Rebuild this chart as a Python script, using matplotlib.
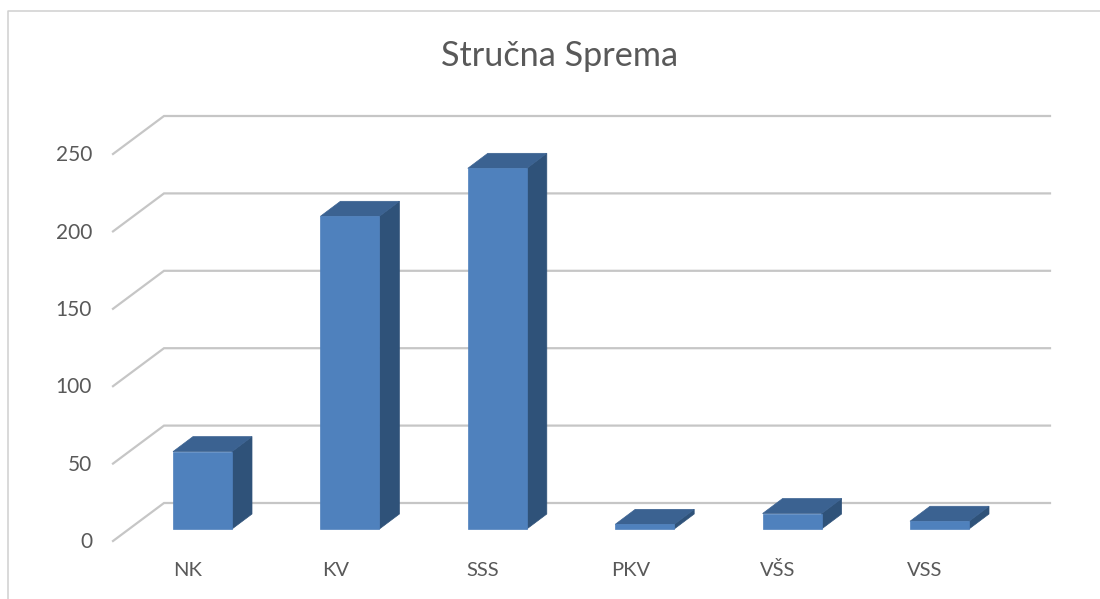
import matplotlib
matplotlib.use("Agg")
import matplotlib.pyplot as plt
from matplotlib.patches import Polygon

categories = ["NK", "KV", "SSS", "PKV", "VŠS", "VSS"]
values = [50, 202, 233, 3, 10, 5]
y_ticks = [0, 50, 100, 150, 200, 250]
title = "Stručna Sprema"

W, H = 1100, 599
PX_PER_CAT = 147.4
PX_PER_VAL = 1.548
X0_PX = 202.5          # centre of the first bar's front face
Y0_PX = 529.0          # pixel row of value 0 on the bar's front plane
BAR_W = 59 / PX_PER_CAT
DX = 20 / PX_PER_CAT   # bar depth, category units
DY = 15 / PX_PER_VAL   # bar depth, value units

plt.rcParams["font.family"] = ["Lato", "DejaVu Sans"]
fig = plt.figure(figsize=(W / 100, H / 100), dpi=100, facecolor="white")
ax = fig.add_axes([0, 0, 1, 1])
ax.set_xlim((0 - X0_PX) / PX_PER_CAT, (W - X0_PX) / PX_PER_CAT)
ax.set_ylim((Y0_PX - H) / PX_PER_VAL, Y0_PX / PX_PER_VAL)
ax.axis("off")


def x_px(px):
    return (px - X0_PX) / PX_PER_CAT


def y_px(px):
    return (Y0_PX - px) / PX_PER_VAL


# Chart frame (left and top edges run off the crop)
ax.plot([x_px(7.5), x_px(7.5), x_px(1100)], [y_px(599), y_px(10.5), y_px(10.5)],
        color="#D0D0D0", lw=1.1, zorder=1, solid_capstyle="butt")

# Gridlines: the slanted floor/wall segment, then along the back wall
front_off = (541 - Y0_PX) / PX_PER_VAL
back_off = (503 - Y0_PX) / PX_PER_VAL
for t in y_ticks:
    ax.plot([x_px(113), x_px(164), x_px(1050)],
            [t - front_off, t - back_off, t - back_off],
            color="#C6C6C6", lw=1.6, zorder=2, solid_joinstyle="miter")
    ax.text(x_px(92), t - front_off - 0.8, str(t), ha="right", va="center",
            fontsize=15, color="#595959", zorder=5)

# Bars
for i, (c, v) in enumerate(zip(categories, values)):
    l, r = i - BAR_W / 2, i + BAR_W / 2
    ax.add_patch(Polygon([(r, 0), (r + DX, DY), (r + DX, v + DY), (r, v)],
                         closed=True, fc="#2F5279", ec="#2F5279", lw=0.5, zorder=3))
    ax.add_patch(Polygon([(l, v), (r, v), (r + DX, v + DY), (l + DX, v + DY)],
                         closed=True, fc="#3B6291", ec="#3B6291", lw=0.5, zorder=3))
    ax.bar(i, v, width=BAR_W, color="#4F81BD", edgecolor="#4F81BD", linewidth=0.5, zorder=4)
    ax.text(i - 14.5 / PX_PER_CAT, y_px(570), c, ha="center", va="center",
            fontsize=14.5, color="#595959", zorder=5)

ax.text(x_px(560), y_px(56), title, ha="center", va="center",
        fontsize=24.7, color="#595959", zorder=5)

fig.savefig("out.png", dpi=100)
